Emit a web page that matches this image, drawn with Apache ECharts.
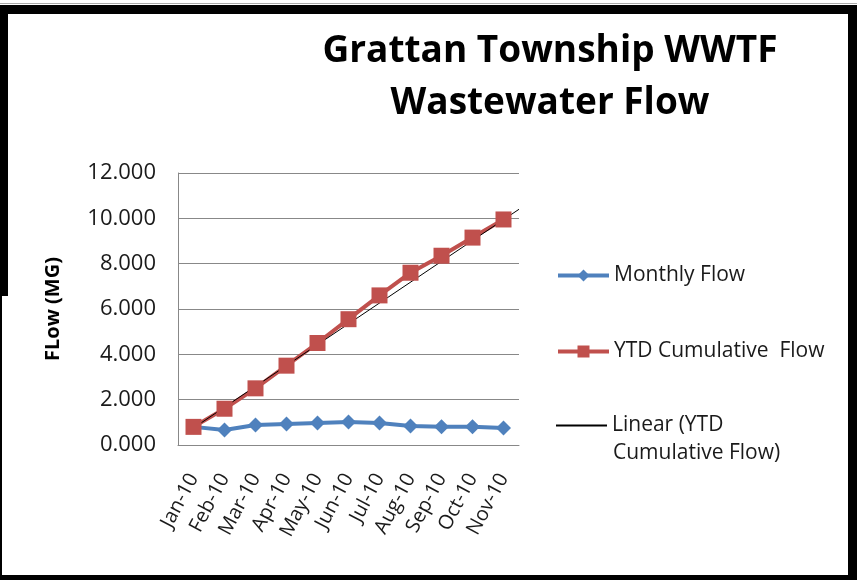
<!DOCTYPE html>
<html>
<head>
<meta charset="utf-8">
<script src="https://cdn.jsdelivr.net/npm/echarts@6/dist/echarts.min.js"></script>
<style>
    body { margin: 0; background: #fff; }
    .wrap { position: relative; width: 857px; height: 580px; }
    #chart { position: absolute; left: 0; top: 0; width: 857px; height: 580px; }
    .edge { position: absolute; background: #000; }
</style>
</head>
<body>
<div class="wrap">
    <div id="chart"></div>
    <div class="edge" style="left:0;top:3px;width:857px;height:1px;background:#aaa"></div>
    <div class="edge" style="left:0;top:5px;width:857px;height:9px"></div>
    <div class="edge" style="left:0;top:5px;width:8px;height:291px"></div>
    <div class="edge" style="left:0;top:5px;width:2px;height:575px"></div>
    <div class="edge" style="left:848px;top:5px;width:9px;height:575px"></div>
    <div class="edge" style="left:0;top:575px;width:857px;height:5px"></div>
</div>
<script>
const months = ['Jan-10', 'Feb-10', 'Mar-10', 'Apr-10', 'May-10', 'Jun-10',
    'Jul-10', 'Aug-10', 'Sep-10', 'Oct-10', 'Nov-10']
const monthlyFlow = [0.80, 0.66, 0.88, 0.93, 0.97, 1.01, 0.97, 0.84, 0.80, 0.80, 0.75]
const ytdFlow = [0.80, 1.60, 2.50, 3.50, 4.50, 5.55, 6.60, 7.60, 8.35, 9.15, 9.95]
// trend line ends (category index, value)
const trendX = [0, 10.5]
const trendY = [0.75, 10.4]

const font = '"Open Sans", "Noto Sans", sans-serif'
const mychart = echarts.init(document.getElementById('chart'))

const options = {
    animation: false,
    textStyle: { fontFamily: font },
    title: {
        text: 'Grattan Township WWTF\nWastewater Flow',
        left: 545,
        top: 20,
        textAlign: 'center',
        textStyle: {
            fontSize: 37,
            fontWeight: 'bold',
            color: '#000',
            lineHeight: 52,
            fontFamily: font
        }
    },
    legend: [
        {
            data: ['Monthly Flow'],
            left: 551, top: 260,
            itemWidth: 51, itemHeight: 15, itemGap: 6,
            lineStyle: { width: 4 },
            textStyle: { fontSize: 21, color: '#1a1a1a' }
        },
        {
            data: ['YTD Cumulative  Flow'],
            left: 551, top: 336,
            itemWidth: 51, itemHeight: 15, itemGap: 6,
            lineStyle: { width: 4 },
            textStyle: { fontSize: 21, color: '#1a1a1a' }
        },
        {
            data: [{ name: 'Linear (YTD Cumulative Flow)', icon: 'rect' }],
            left: 551, top: 410,
            itemWidth: 51, itemHeight: 2, itemGap: 6,
            formatter: () => 'Linear (YTD',
            textStyle: { fontSize: 21, color: '#1a1a1a' }
        }
    ],
    // second line of the trend legend entry
    graphic: [
        {
            type: 'text',
            left: 613,
            top: 443,
            style: {
                text: 'Cumulative Flow)',
                fontSize: 21,
                fontFamily: font,
                fill: '#1a1a1a'
            }
        }
    ],
    grid: {
        left: 178,
        top: 173,
        width: 341,
        height: 272
    },
    xAxis: [
        {
            type: 'category',
            data: months,
            boundaryGap: true,
            axisLine: { lineStyle: { color: '#888', width: 1 } },
            axisTick: { show: false },
            axisLabel: {
                rotate: 62,
                fontSize: 20,
                color: '#1a1a1a',
                margin: 30,
                interval: 0
            }
        },
        {
            type: 'value',
            min: -0.5,
            max: 10.5,
            show: false
        }
    ],
    yAxis: {
        type: 'value',
        min: 0,
        max: 12,
        interval: 2,
        name: 'FLow (MG)',
        nameLocation: 'middle',
        nameGap: 115,
        nameTextStyle: { fontSize: 20, fontWeight: 'bold', color: '#000' },
        axisLine: { show: true, onZero: false, lineStyle: { color: '#888', width: 1 } },
        axisTick: { show: false },
        axisLabel: {
            fontSize: 22,
            color: '#1a1a1a',
            margin: 22,
            formatter: v => v.toFixed(3)
        },
        splitLine: { lineStyle: { color: '#888', width: 1 } }
    },
    series: [
        {
            name: 'Monthly Flow',
            type: 'line',
            data: monthlyFlow,
            symbol: 'diamond',
            symbolSize: [15, 15],
            lineStyle: { color: '#4F81BD', width: 4 },
            itemStyle: { color: '#4F81BD' }
        },
        {
            name: 'YTD Cumulative  Flow',
            type: 'line',
            data: ytdFlow,
            symbol: 'rect',
            symbolSize: 16,
            lineStyle: { color: '#C0504D', width: 4 },
            itemStyle: { color: '#C0504D' }
        },
        {
            name: 'Linear (YTD Cumulative Flow)',
            type: 'line',
            xAxisIndex: 1,
            data: trendX.map((x, i) => [x, trendY[i]]),
            symbol: 'none',
            lineStyle: { color: '#000', width: 1 },
            itemStyle: { color: '#000' }
        }
    ]
}

mychart.setOption(options)
</script>
</body>
</html>
